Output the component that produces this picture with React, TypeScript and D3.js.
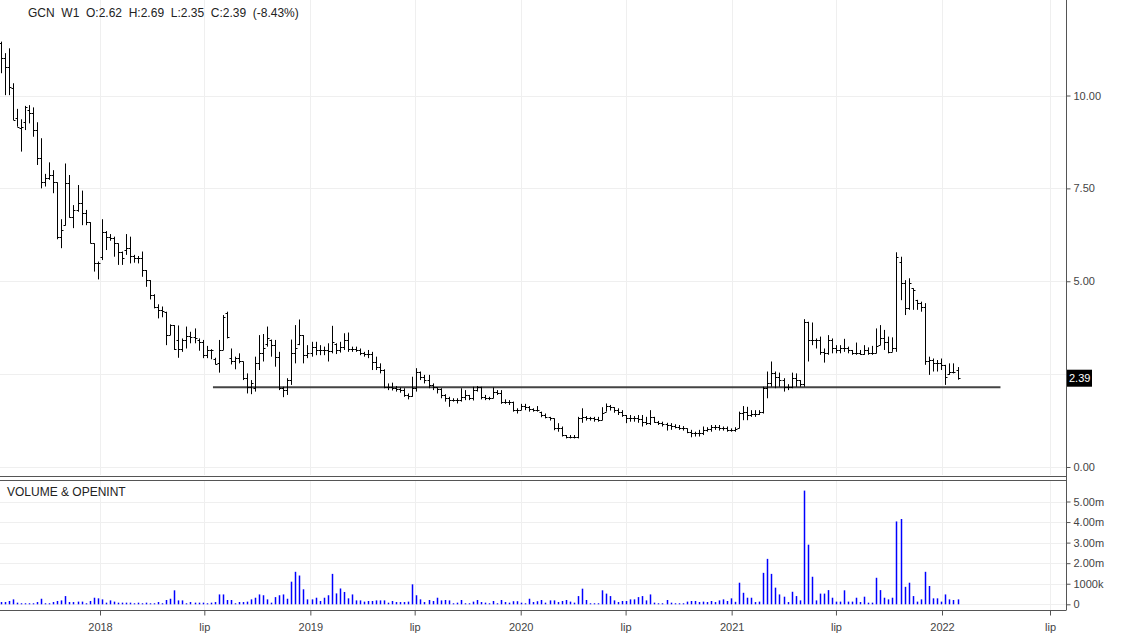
import React, { useEffect, useRef } from 'react';
import * as d3 from 'd3';

// weekly bars for GCN, first bar dated below, one bar per week
const firstWeek = '2017-07-13';

const opens = [
  11.40, 11.00, 10.76, 10.19, 9.39, 9.12, 9.30, 9.61, 9.52, 9.07,
  8.31, 7.68, 7.77, 7.86, 7.66, 6.20, 6.51, 7.64, 6.74, 6.92,
  7.10, 6.83, 6.59, 6.02, 5.48, 5.66, 6.33, 6.20, 6.16, 6.02,
  5.80, 5.84, 5.89, 5.68, 5.62, 5.62, 5.30, 5.03, 4.63, 4.32,
  4.23, 4.18, 3.55, 3.82, 3.42, 3.18, 3.42, 3.53, 3.51, 3.42,
  3.37, 3.01, 3.15, 2.92, 2.79, 3.15, 4.14, 2.93, 2.84, 2.93,
  2.84, 2.39, 2.16, 2.12, 2.80, 3.06, 3.30, 3.43, 3.28, 2.97,
  2.12, 2.07, 2.34, 3.06, 3.30, 3.55, 3.01, 3.06, 3.24, 3.15,
  3.15, 3.15, 3.11, 3.30, 3.15, 3.24, 3.42, 3.17, 3.17, 3.15,
  3.06, 3.04, 3.04, 2.83, 2.70, 2.61, 2.16, 2.16, 2.12, 2.09,
  2.07, 1.94, 1.91, 2.12, 2.57, 2.43, 2.34, 2.21, 2.14, 2.09,
  1.94, 1.85, 1.80, 1.80, 1.80, 1.89, 1.94, 1.85, 2.07, 2.14,
  1.89, 1.85, 1.85, 2.03, 2.00, 1.76, 1.76, 1.76, 1.53, 1.53,
  1.64, 1.61, 1.55, 1.53, 1.49, 1.40, 1.35, 1.31, 1.04, 1.04,
  0.86, 0.82, 0.82, 0.82, 1.31, 1.35, 1.31, 1.31, 1.28, 1.26,
  1.49, 1.64, 1.61, 1.53, 1.49, 1.40, 1.31, 1.31, 1.31, 1.28,
  1.22, 1.19, 1.35, 1.22, 1.18, 1.16, 1.13, 1.10, 1.09, 1.06,
  1.04, 0.95, 0.91, 0.91, 0.91, 1.00, 1.01, 1.07, 1.07, 1.04,
  1.04, 1.00, 1.00, 1.04, 1.46, 1.49, 1.40, 1.44, 1.43, 1.49,
  2.12, 2.25, 2.52, 2.43, 2.34, 2.16, 2.16, 2.39, 2.34, 2.23,
  3.91, 3.42, 3.42, 3.42, 3.10, 3.06, 3.42, 3.19, 3.15, 3.19,
  3.19, 3.15, 3.06, 3.06, 3.04, 3.15, 3.08, 3.08, 3.28, 3.46,
  3.37, 3.10, 3.19, 5.53, 4.94, 4.27, 4.81, 4.50, 4.41, 4.32,
  2.84, 2.88, 2.79, 2.79, 2.75, 2.50, 2.57, 2.62
];

const highs = [
  11.45, 11.14, 11.27, 10.33, 9.64, 9.36, 9.72, 9.74, 9.68, 9.28,
  8.85, 7.89, 8.20, 7.99, 7.66, 6.67, 8.17, 7.86, 7.05, 7.59,
  7.44, 6.92, 6.59, 6.02, 5.53, 6.67, 6.35, 6.27, 6.20, 6.02,
  5.80, 6.27, 6.20, 5.71, 5.68, 5.80, 5.30, 5.03, 4.65, 4.38,
  4.32, 4.18, 3.84, 3.82, 3.81, 3.46, 3.78, 3.64, 3.73, 3.46,
  3.42, 3.26, 3.17, 2.94, 3.42, 4.09, 4.18, 3.19, 2.97, 3.06,
  2.84, 2.52, 2.34, 2.97, 3.55, 3.58, 3.78, 3.43, 3.42, 3.10,
  2.16, 2.39, 3.43, 3.82, 3.97, 3.55, 3.28, 3.37, 3.37, 3.28,
  3.24, 3.33, 3.80, 3.33, 3.37, 3.60, 3.62, 3.24, 3.24, 3.19,
  3.10, 3.15, 3.10, 2.97, 2.79, 2.63, 2.25, 2.27, 2.18, 2.14,
  2.12, 1.98, 2.43, 2.66, 2.57, 2.48, 2.48, 2.25, 2.14, 2.12,
  1.96, 1.89, 1.85, 1.85, 2.12, 2.07, 1.94, 2.16, 2.18, 2.16,
  1.94, 1.89, 2.14, 2.07, 2.07, 1.82, 1.80, 1.76, 1.58, 1.70,
  1.70, 1.64, 1.58, 1.64, 1.49, 1.44, 1.35, 1.31, 1.18, 1.09,
  0.86, 0.86, 0.86, 1.35, 1.58, 1.37, 1.35, 1.35, 1.35, 1.61,
  1.71, 1.67, 1.61, 1.58, 1.53, 1.40, 1.40, 1.37, 1.40, 1.40,
  1.35, 1.53, 1.35, 1.24, 1.22, 1.19, 1.18, 1.15, 1.13, 1.10,
  1.04, 1.00, 0.95, 1.00, 1.09, 1.07, 1.13, 1.13, 1.13, 1.09,
  1.09, 1.04, 1.07, 1.49, 1.64, 1.62, 1.53, 1.53, 1.53, 2.16,
  2.57, 2.84, 2.57, 2.54, 2.39, 2.23, 2.54, 2.52, 2.34, 3.98,
  3.91, 3.89, 3.46, 3.51, 3.19, 3.55, 3.46, 3.28, 3.28, 3.45,
  3.24, 3.15, 3.35, 3.15, 3.28, 3.22, 3.26, 3.73, 3.82, 3.69,
  3.51, 3.49, 5.78, 5.66, 5.03, 5.08, 4.81, 4.50, 4.45, 4.41,
  2.97, 2.92, 2.88, 2.92, 2.75, 2.79, 2.79, 2.69
];

const lows = [
  10.60, 10.01, 10.01, 9.34, 9.16, 8.49, 9.07, 9.25, 8.89, 8.13,
  7.50, 7.55, 7.73, 7.37, 6.13, 5.89, 6.50, 6.71, 6.43, 6.87,
  6.51, 6.51, 6.02, 5.26, 5.05, 5.57, 5.84, 6.09, 5.66, 5.44,
  5.44, 5.71, 5.48, 5.50, 5.48, 5.12, 4.85, 4.51, 4.27, 4.00,
  4.03, 3.28, 3.55, 3.15, 2.94, 3.10, 3.19, 3.33, 3.33, 3.13,
  2.93, 2.93, 2.90, 2.76, 2.54, 3.15, 3.46, 2.76, 2.63, 2.79,
  2.34, 1.98, 1.96, 2.03, 2.61, 2.84, 3.24, 2.97, 2.70, 2.07,
  1.88, 1.94, 2.21, 2.79, 3.28, 2.79, 2.93, 2.97, 3.01, 3.01,
  3.01, 2.84, 3.06, 3.04, 3.08, 3.15, 3.10, 3.10, 3.10, 3.01,
  2.97, 2.93, 2.61, 2.61, 2.52, 2.12, 2.07, 2.06, 2.03, 2.00,
  1.89, 1.82, 1.89, 2.03, 2.34, 2.25, 2.12, 2.07, 1.98, 1.85,
  1.76, 1.62, 1.76, 1.71, 1.76, 1.80, 1.80, 1.79, 2.03, 1.82,
  1.80, 1.80, 1.85, 1.94, 1.70, 1.70, 1.67, 1.49, 1.44, 1.53,
  1.53, 1.49, 1.49, 1.49, 1.34, 1.31, 1.25, 0.99, 0.95, 0.82,
  0.77, 0.77, 0.77, 0.77, 1.19, 1.25, 1.25, 1.22, 1.22, 1.26,
  1.49, 1.52, 1.46, 1.40, 1.35, 1.18, 1.22, 1.22, 1.19, 1.09,
  1.13, 1.13, 1.19, 1.13, 1.09, 0.98, 1.00, 1.04, 1.00, 0.98,
  0.91, 0.80, 0.82, 0.82, 0.86, 0.95, 0.95, 1.00, 0.98, 0.98,
  0.95, 0.95, 0.95, 1.04, 1.26, 1.26, 1.35, 1.35, 1.40, 1.44,
  1.85, 2.16, 2.12, 2.16, 2.03, 2.07, 2.12, 2.16, 2.16, 2.16,
  2.84, 3.28, 3.19, 3.02, 2.81, 3.02, 3.06, 3.06, 3.06, 3.10,
  3.06, 3.02, 3.02, 3.02, 3.02, 3.02, 3.02, 3.06, 3.28, 3.15,
  3.06, 3.10, 3.10, 4.49, 4.09, 4.23, 4.23, 4.23, 4.18, 2.75,
  2.48, 2.57, 2.57, 2.61, 2.21, 2.48, 2.52, 2.35
];

const closes = [
  11.00, 10.76, 10.24, 9.34, 9.16, 9.16, 9.70, 9.52, 9.07, 8.31,
  7.68, 7.77, 7.86, 7.68, 6.20, 6.38, 7.64, 6.74, 6.92, 7.10,
  6.83, 6.60, 6.02, 5.48, 5.48, 6.33, 6.20, 6.16, 6.02, 5.80,
  5.62, 5.89, 5.68, 5.62, 5.62, 5.30, 5.03, 4.63, 4.32, 4.23,
  4.20, 3.55, 3.82, 3.18, 3.18, 3.42, 3.53, 3.51, 3.46, 3.37,
  3.01, 3.15, 3.15, 2.76, 3.15, 4.05, 3.51, 2.84, 2.93, 2.84,
  2.39, 2.16, 2.25, 2.80, 3.06, 3.19, 3.46, 3.28, 2.97, 2.12,
  2.07, 2.34, 3.06, 3.19, 3.55, 3.01, 3.06, 3.24, 3.15, 3.15,
  3.15, 3.11, 3.37, 3.15, 3.24, 3.42, 3.17, 3.17, 3.15, 3.06,
  3.04, 3.04, 2.83, 2.70, 2.61, 2.16, 2.16, 2.12, 2.09, 2.07,
  1.94, 1.91, 2.12, 2.57, 2.43, 2.34, 2.21, 2.14, 2.09, 1.94,
  1.85, 1.80, 1.80, 1.80, 1.89, 1.94, 1.85, 2.07, 2.14, 1.89,
  1.85, 1.85, 2.03, 2.00, 1.76, 1.76, 1.76, 1.53, 1.53, 1.64,
  1.61, 1.55, 1.53, 1.53, 1.40, 1.35, 1.31, 1.04, 1.04, 0.86,
  0.82, 0.82, 0.82, 1.31, 1.35, 1.31, 1.31, 1.28, 1.26, 1.46,
  1.64, 1.61, 1.53, 1.49, 1.40, 1.31, 1.31, 1.31, 1.28, 1.22,
  1.19, 1.35, 1.22, 1.18, 1.16, 1.13, 1.10, 1.09, 1.06, 1.04,
  0.95, 0.91, 0.91, 0.91, 1.00, 1.01, 1.07, 1.07, 1.04, 1.04,
  1.00, 1.00, 1.01, 1.46, 1.49, 1.40, 1.44, 1.43, 1.49, 2.12,
  2.25, 2.52, 2.43, 2.34, 2.16, 2.16, 2.39, 2.34, 2.23, 3.91,
  3.42, 3.42, 3.42, 3.10, 3.06, 3.42, 3.19, 3.15, 3.19, 3.19,
  3.15, 3.06, 3.06, 3.04, 3.15, 3.08, 3.08, 3.26, 3.46, 3.37,
  3.10, 3.19, 5.66, 4.94, 4.27, 4.94, 4.76, 4.41, 4.32, 2.84,
  2.88, 2.79, 2.79, 2.75, 2.43, 2.57, 2.57, 2.39
];

// volume in millions of shares
const volumes = [
  0.11, 0.11, 0.16, 0.24, 0.08, 0.05, 0.05, 0.05, 0.05, 0.11,
  0.27, 0.05, 0.05, 0.11, 0.16, 0.19, 0.40, 0.11, 0.11, 0.13,
  0.13, 0.05, 0.16, 0.32, 0.29, 0.24, 0.08, 0.19, 0.13, 0.08,
  0.08, 0.08, 0.08, 0.05, 0.08, 0.05, 0.08, 0.05, 0.05, 0.11,
  0.05, 0.21, 0.27, 0.68, 0.19, 0.19, 0.05, 0.11, 0.08, 0.08,
  0.08, 0.05, 0.08, 0.11, 0.48, 0.48, 0.21, 0.21, 0.05, 0.11,
  0.11, 0.13, 0.24, 0.32, 0.48, 0.44, 0.24, 0.08, 0.35, 0.44,
  0.48, 0.27, 1.10, 1.58, 1.40, 0.73, 0.24, 0.24, 0.32, 0.16,
  0.32, 0.44, 1.48, 0.53, 0.77, 0.60, 0.29, 0.48, 0.19, 0.19,
  0.13, 0.16, 0.16, 0.19, 0.19, 0.19, 0.08, 0.16, 0.11, 0.11,
  0.11, 0.13, 0.97, 0.44, 0.24, 0.11, 0.21, 0.16, 0.32, 0.19,
  0.21, 0.19, 0.05, 0.08, 0.21, 0.05, 0.05, 0.13, 0.21, 0.11,
  0.08, 0.05, 0.16, 0.05, 0.21, 0.11, 0.08, 0.15, 0.15, 0.08,
  0.05, 0.27, 0.11, 0.15, 0.21, 0.08, 0.19, 0.19, 0.11, 0.16,
  0.21, 0.13, 0.08, 0.40, 0.76, 0.21, 0.05, 0.05, 0.05, 0.68,
  0.52, 0.40, 0.19, 0.11, 0.16, 0.16, 0.24, 0.24, 0.35, 0.40,
  0.19, 0.48, 0.08, 0.05, 0.05, 0.21, 0.08, 0.05, 0.05, 0.05,
  0.13, 0.16, 0.16, 0.11, 0.13, 0.11, 0.16, 0.11, 0.19, 0.24,
  0.16, 0.29, 0.12, 1.05, 0.56, 0.32, 0.32, 0.11, 0.13, 1.53,
  2.21, 1.48, 0.81, 0.48, 0.37, 0.11, 0.61, 0.40, 0.19, 5.53,
  2.90, 1.34, 0.19, 0.52, 0.52, 0.69, 0.32, 0.13, 0.13, 0.68,
  0.13, 0.13, 0.32, 0.11, 0.37, 0.08, 0.08, 1.29, 0.69, 0.32,
  0.24, 0.32, 4.03, 4.15, 0.85, 1.05, 0.40, 0.13, 0.24, 1.58,
  0.89, 0.29, 0.29, 0.13, 0.48, 0.24, 0.21, 0.24
];

const priceTicks = [0, 2.5, 5, 7.5, 10];
const volumeTicks = [0, 1, 2, 3, 4, 5];
const timeTicks = [
  '2018-01-01', '2018-07-01', '2019-01-01', '2019-07-01', '2020-01-01',
  '2020-07-01', '2021-01-01', '2021-07-01', '2022-01-01', '2022-07-01'
];
const monthNames = ['lip']; // july, polish

// horizontal support line drawn on the chart
const supportLevel = 2.15;
const supportFrom = '2018-07-16';
const supportTo = '2022-04-09';

const header = 'GCN  W1  O:2.62  H:2.69  L:2.35  C:2.39  (-8.43%)';
const lastClose = 2.39;

const FONT = '"Liberation Sans", Arial, Helvetica, sans-serif';

export default function App() {
  const svgRef = useRef<SVGSVGElement>(null);

  useEffect(() => {
    const svg = d3.select(svgRef.current);
    svg.selectAll('*').remove();

    const right = 1066; // right axis line
    const priceBottom = 475;
    const volTop = 481;
    const volBottom = 610;

    const parse = d3.utcParse('%Y-%m-%d');
    const start = parse(firstWeek) as Date;
    const bars = closes.map((c, i) => ({
      date: d3.utcDay.offset(start, 7 * i),
      o: opens[i], h: highs[i], l: lows[i], c, v: volumes[i]
    }));
    const ticks = timeTicks.map(t => parse(t) as Date);

    const x = d3.scaleUtc()
      .domain([parse('2018-01-01'), parse('2022-01-01'), parse('2022-07-01')] as Date[])
      .range([100, 942, 1050]);
    const y = d3.scaleLinear().domain([0, 10]).range([467, 95.5]);
    const yv = d3.scaleLinear().domain([0, 5]).range([604.3, 501.5]);

    const px = (d: Date) => Math.round(x(d)) + 0.5;

    // grids
    const grid = svg.append('g').attr('stroke', '#efefef').attr('stroke-width', 1);
    ticks.forEach(t => {
      grid.append('line').attr('x1', px(t)).attr('x2', px(t)).attr('y1', 0).attr('y2', priceBottom);
      grid.append('line').attr('x1', px(t)).attr('x2', px(t)).attr('y1', volTop).attr('y2', volBottom);
    });
    priceTicks.forEach(v => {
      grid.append('line').attr('x1', 0).attr('x2', right)
        .attr('y1', Math.round(y(v)) + 0.5).attr('y2', Math.round(y(v)) + 0.5);
    });
    volumeTicks.forEach(v => {
      grid.append('line').attr('x1', 0).attr('x2', right)
        .attr('y1', Math.round(yv(v)) + 0.5).attr('y2', Math.round(yv(v)) + 0.5);
    });

    // support line
    svg.append('line')
      .attr('x1', x(parse(supportFrom) as Date)).attr('x2', x(parse(supportTo) as Date))
      .attr('y1', y(supportLevel)).attr('y2', y(supportLevel))
      .attr('stroke', '#444').attr('stroke-width', 2);

    // OHLC bars
    const ohlc = svg.append('g').attr('stroke', '#000').attr('stroke-width', 1);
    bars.forEach(b => {
      const bx = px(b.date);
      ohlc.append('line').attr('x1', bx).attr('x2', bx).attr('y1', y(b.h)).attr('y2', y(b.l));
      const yo = Math.round(y(b.o)) + 0.5;
      const yc = Math.round(y(b.c)) + 0.5;
      ohlc.append('line').attr('x1', bx - 2).attr('x2', bx).attr('y1', yo).attr('y2', yo);
      ohlc.append('line').attr('x1', bx).attr('x2', bx + 2).attr('y1', yc).attr('y2', yc);
    });

    // volume bars
    svg.append('g').attr('stroke', '#0000ff').attr('stroke-width', 1.5)
      .selectAll('line').data(bars).enter().append('line')
      .attr('x1', d => px(d.date)).attr('x2', d => px(d.date))
      .attr('y1', yv(0)).attr('y2', d => yv(d.v));

    // frames
    const frame = svg.append('g').attr('stroke', '#555').attr('stroke-width', 1);
    frame.append('line').attr('x1', right + 0.5).attr('x2', right + 0.5).attr('y1', 0).attr('y2', volBottom);
    frame.append('line').attr('x1', 0).attr('x2', right + 0.5).attr('y1', 476.5).attr('y2', 476.5);
    frame.append('line').attr('x1', 0).attr('x2', right + 0.5).attr('y1', 480.5).attr('y2', 480.5);
    frame.append('line').attr('x1', 0).attr('x2', right + 0.5).attr('y1', volBottom + 0.5).attr('y2', volBottom + 0.5);

    // price axis
    const priceAxis = svg.append('g')
      .attr('transform', `translate(${right + 0.5},0)`)
      .call(d3.axisRight(y).tickValues(priceTicks).tickSize(4).tickSizeOuter(0)
        .tickFormat(d => (+d === 2.5 ? '' : d3.format('.2f')(+d))));
    priceAxis.select('.domain').remove();

    // volume axis
    const volAxis = svg.append('g')
      .attr('transform', `translate(${right + 0.5},0)`)
      .call(d3.axisRight(yv).tickValues(volumeTicks).tickSize(4).tickSizeOuter(0)
        .tickFormat(d => (+d === 0 ? '0' : +d === 1 ? '1000k' : d3.format('.2f')(+d) + 'm')));
    volAxis.select('.domain').remove();

    // time axis
    const timeAxis = svg.append('g')
      .attr('transform', `translate(0,${volBottom + 0.5})`)
      .call(d3.axisBottom(x).tickValues(ticks).tickSize(5).tickSizeOuter(0)
        .tickFormat(d => ((d as Date).getUTCMonth() === 0 ? String((d as Date).getUTCFullYear()) : monthNames[0])));
    timeAxis.select('.domain').remove();

    [priceAxis, volAxis, timeAxis].forEach(a => {
      a.selectAll('line').attr('stroke', '#555');
      a.selectAll('text').attr('fill', '#444').style('font-family', FONT).style('font-size', '11px');
    });
    timeAxis.selectAll('text').attr('dy', '1.1em');

    // last price badge
    const yl = y(lastClose);
    svg.append('rect').attr('x', right + 1).attr('y', yl - 8.5).attr('width', 25).attr('height', 17).attr('fill', '#000');
    svg.append('text').attr('x', right + 3).attr('y', yl + 4)
      .attr('fill', '#fff').style('font-family', FONT).style('font-size', '11px').text(lastClose.toFixed(2));

    // titles
    svg.append('text').attr('x', 28).attr('y', 17).attr('fill', '#222')
      .attr('xml:space', 'preserve').style('white-space', 'pre')
      .style('font-family', FONT).style('font-size', '12px').text(header);
    svg.append('text').attr('x', 7).attr('y', 496).attr('fill', '#222')
      .style('font-family', FONT).style('font-size', '12px').text('VOLUME & OPENINT');
  }, []);

  return (
    <svg ref={svgRef} width={1126} height={640}
      style={{ position: 'absolute', left: 0, top: 0, background: '#fff' }} />
  );
}
